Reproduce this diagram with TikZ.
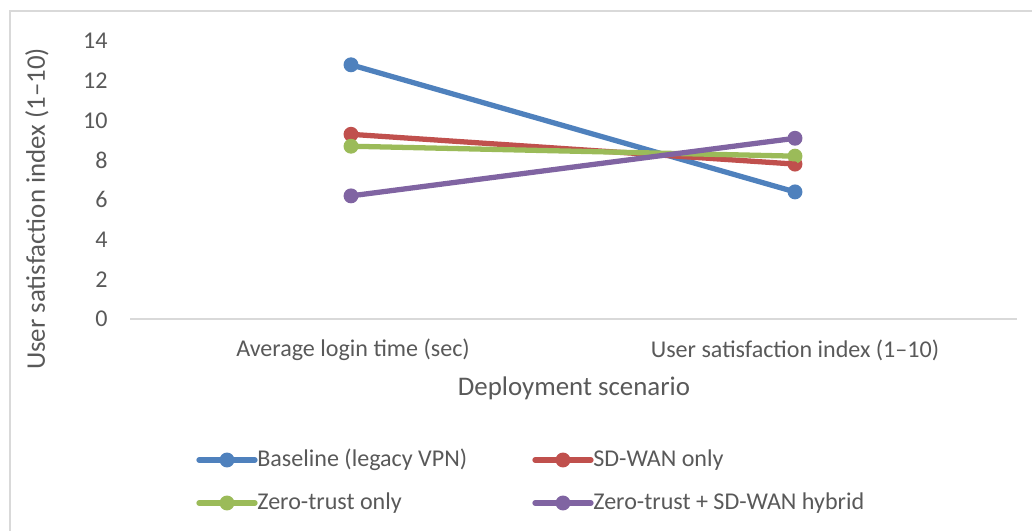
\documentclass[tikz,border=0pt]{standalone}
\usepackage{fontspec}
\setmainfont{Carlito}
\usetikzlibrary{positioning,calc}
\definecolor{Blue}{HTML}{4F81BD}
\definecolor{Red}{HTML}{C0504D}
\definecolor{Green}{HTML}{9BBB59}
\definecolor{Purple}{HTML}{8064A2}
\definecolor{Txt}{HTML}{595959}
\definecolor{Grid}{HTML}{D9D9D9}
\tikzstyle{Tick} = [anchor=east, text=Txt, font=\fontsize{13.7}{15}\selectfont, inner sep=0pt]
\tikzstyle{Cat} = [text=Txt, font=\fontsize{13.7}{15}\selectfont, inner sep=0pt]
\tikzstyle{Title} = [text=Txt, font=\fontsize{15.3}{17}\selectfont, inner sep=0pt]
\tikzstyle{Legend} = [anchor=west, text=Txt, font=\fontsize{13.7}{15}\selectfont, inner sep=0pt]
\tikzstyle{Dot} = [circle, inner sep=0pt, minimum size=8.5pt]
\tikzstyle{Series} = [line width=3pt, line cap=round]

\begin{document}
\begin{tikzpicture}[x=0.02cm, y=-0.02cm]
        \useasboundingbox (0,0) rectangle (1032,531);

        %%%%% Frame and axis %%%%%

        \draw[Grid, line width=1pt] (1032,11) -- (10,11) -- (10,531);
        \coordinate (O) at (130,319);
        \coordinate (E) at (1017,319);
        \draw[Grid, line width=1pt] (O) -- (E);

        %%%%% Tick labels %%%%%

        \foreach \v in {0,2,...,14}
            \node[Tick] (t\v) at (108, 319-19.86*\v) {\v};

        \node[Title, rotate=90] (ytitle) at (37,209) {User satisfaction index (1–10)};
        \node[Cat] (catA) at (353,350) {Average login time (sec)};
        \node[Cat] (catB) at (795,350) {User satisfaction index (1–10)};
        \node[Title] (xtitle) at (574,388) {Deployment scenario};

        %%%%% Data points %%%%%

        \draw node[Dot, fill=Blue] at (351, 319-19.86*12.8) (A1) {};
        \draw node[Dot, fill=Blue] at (795, 319-19.86*6.4) (A2) {};
        \draw node[Dot, fill=Red] at (351, 319-19.86*9.3) (B1) {};
        \draw node[Dot, fill=Red] at (795, 319-19.86*7.8) (B2) {};
        \draw node[Dot, fill=Green] at (351, 319-19.86*8.7) (C1) {};
        \draw node[Dot, fill=Green] at (795, 319-19.86*8.2) (C2) {};
        \draw node[Dot, fill=Purple] at (351, 319-19.86*6.2) (D1) {};
        \draw node[Dot, fill=Purple] at (795, 319-19.86*9.1) (D2) {};

        %%%%% Series lines %%%%%

        \draw [Series, Blue] (A1.center) -- (A2.center);
        \draw [Series, Red] (B1.center) -- (B2.center);
        \draw [Series, Green] (C1.center) -- (C2.center);
        \draw [Series, Purple] (D1.center) -- (D2.center);

        %%%%% Legend %%%%%

        \coordinate (la) at (199,460);
        \coordinate (lb) at (535,460);
        \coordinate (lc) at (199,503);
        \coordinate (ld) at (535,503);

        \draw [Series, Blue] (la) -- ($(la)+(56,0)$) coordinate (la2);
        \draw node[Dot, fill=Blue] at ($(la)+(28,0)$) (ma) {};
        \node[Legend] (ta) at ($(la2)+(2,0)$) {Baseline (legacy VPN)};

        \draw [Series, Red] (lb) -- ($(lb)+(56,0)$) coordinate (lb2);
        \draw node[Dot, fill=Red] at ($(lb)+(28,0)$) (mb) {};
        \node[Legend] (tb) at ($(lb2)+(2,0)$) {SD-WAN only};

        \draw [Series, Green] (lc) -- ($(lc)+(56,0)$) coordinate (lc2);
        \draw node[Dot, fill=Green] at ($(lc)+(28,0)$) (mc) {};
        \node[Legend] (tc) at ($(lc2)+(2,0)$) {Zero-trust only};

        \draw [Series, Purple] (ld) -- ($(ld)+(56,0)$) coordinate (ld2);
        \draw node[Dot, fill=Purple] at ($(ld)+(28,0)$) (md) {};
        \node[Legend] (td) at ($(ld2)+(2,0)$) {Zero-trust + SD-WAN hybrid};

\end{tikzpicture}
\end{document}
